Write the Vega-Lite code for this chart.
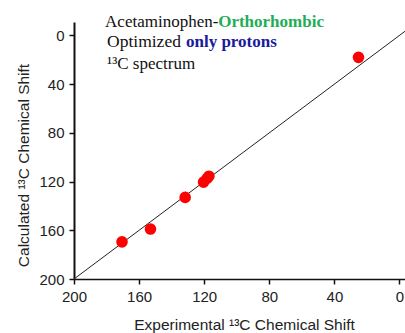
{
  "$schema": "https://vega.github.io/schema/vega-lite/v6.json",
  "width": 332,
  "height": 257,
  "autosize": {"type": "none"},
  "padding": {"left": 74, "top": 22, "right": 0, "bottom": 54},
  "background": "white",
  "config": {"view": {"stroke": null}},
  "datasets": {
    "points": [
      {"experimental": 25.2, "calculated": 18},
      {"experimental": 170.5, "calculated": 169.5},
      {"experimental": 153, "calculated": 159},
      {"experimental": 131.7, "calculated": 133},
      {"experimental": 120.4, "calculated": 120.5},
      {"experimental": 118.3, "calculated": 117.5},
      {"experimental": 117.1, "calculated": 115.6}
    ],
    "ideal": [
      {"experimental": 200, "calculated": 200},
      {"experimental": -4, "calculated": -4}
    ]
  },
  "layer": [
    {
      "data": {"name": "ideal"},
      "mark": {"type": "line", "color": "#222222", "strokeWidth": 1, "clip": true},
      "encoding": {
        "x": {
          "field": "experimental", "type": "quantitative",
          "scale": {"domain": [200, -4], "nice": false, "zero": false},
          "axis": {
            "values": [200, 160, 120, 80, 40, 0],
            "title": "Experimental ¹³C Chemical Shift",
            "titleFont": "Liberation Sans", "titleFontSize": 15.5, "titleFontWeight": "normal",
            "titleColor": "#222222", "titlePadding": 13, "titleX": 170,
            "labelFont": "Liberation Sans", "labelFontSize": 15, "labelColor": "#222222",
            "labelPadding": 5, "tickSize": 5, "tickColor": "#111111", "tickWidth": 1.5,
            "domainColor": "#111111", "domainWidth": 1.5, "grid": false, "labelFlush": false
          }
        },
        "y": {
          "field": "calculated", "type": "quantitative",
          "scale": {"domain": [200, -11], "nice": false, "zero": false},
          "axis": {
            "values": [0, 40, 80, 120, 160, 200],
            "title": "Calculated ¹³C Chemical Shift",
            "titleFont": "Liberation Sans", "titleFontSize": 15.5, "titleFontWeight": "normal",
            "titleColor": "#222222", "titlePadding": 7, "titleY": 143,
            "labelFont": "Liberation Sans", "labelFontSize": 15, "labelColor": "#222222",
            "labelPadding": 5, "tickSize": 5, "tickColor": "#111111", "tickWidth": 1.5,
            "domainColor": "#111111", "domainWidth": 2, "grid": false, "labelFlush": false
          }
        }
      }
    },
    {
      "data": {"name": "points"},
      "mark": {"type": "circle", "color": "#ff0000", "opacity": 1, "size": 135},
      "encoding": {
        "x": {"field": "experimental", "type": "quantitative"},
        "y": {"field": "calculated", "type": "quantitative"}
      }
    },
    {
      "data": {"values": [{}]},
      "mark": {"type": "text", "text": "Acetaminophen-", "font": "Liberation Serif", "fontSize": 17, "align": "left", "baseline": "alphabetic", "color": "#111111"},
      "encoding": {"x": {"datum": 180.9}, "y": {"datum": -6.6}}
    },
    {
      "data": {"values": [{}]},
      "mark": {"type": "text", "text": "Orthorhombic", "font": "Liberation Serif", "fontSize": 17, "fontWeight": "bold", "align": "left", "baseline": "alphabetic", "color": "#1fae55"},
      "encoding": {"x": {"datum": 111.4}, "y": {"datum": -6.6}}
    },
    {
      "data": {"values": [{}]},
      "mark": {"type": "text", "text": "Optimized", "font": "Liberation Serif", "fontSize": 17.5, "align": "left", "baseline": "alphabetic", "color": "#111111"},
      "encoding": {"x": {"datum": 179.7}, "y": {"datum": 9.9}}
    },
    {
      "data": {"values": [{}]},
      "mark": {"type": "text", "text": "only protons", "font": "Liberation Serif", "fontSize": 17, "fontWeight": "bold", "align": "left", "baseline": "alphabetic", "color": "#1a1a9a"},
      "encoding": {"x": {"datum": 131.2}, "y": {"datum": 9.9}}
    },
    {
      "data": {"values": [{}]},
      "mark": {"type": "text", "text": "¹³C spectrum", "font": "Liberation Serif", "fontSize": 17, "align": "left", "baseline": "alphabetic", "color": "#111111"},
      "encoding": {"x": {"datum": 179.7}, "y": {"datum": 27.9}}
    }
  ]
}
